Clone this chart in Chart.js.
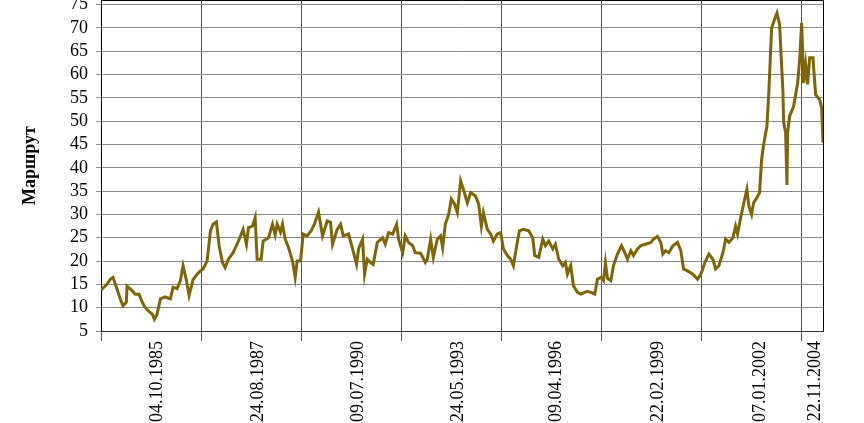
<!DOCTYPE html>
<html>
<head>
<meta charset="utf-8">
<script src="https://cdn.jsdelivr.net/npm/chart.js@4.4.1/dist/chart.umd.min.js"></script>
<style>
  html, body { margin: 0; padding: 0; background: #fff; }
</style>
</head>
<body>
<canvas id="grafico" width="864" height="423"></canvas>
<script>
// semanas desde el inicio de la serie (eje de categorias)
const semanas = [
  0, 9, 14, 18, 24, 29, 33, 38, 39, 47, 51, 57, 62, 66, 71, 77, 80, 84, 89, 96,
  104, 108, 114, 119, 123, 128, 132, 138, 144, 149, 153, 159, 164, 168, 173, 177, 182, 186,
  191, 198, 206, 213, 218, 221, 227, 231, 234, 240, 243, 251, 257, 261, 264, 269, 272, 276,
  281, 287, 291, 294, 299, 303, 309, 315, 320, 326, 332, 339, 344, 347, 354, 359, 363,
  371, 377, 383, 386, 392, 395, 399, 404, 408, 414, 422, 426, 431, 437, 443, 446, 452, 456,
  461, 467, 471, 479, 486, 489, 494, 498, 504, 509, 512, 516, 521, 525, 530, 534, 539, 543,
  549, 554, 561, 566, 570, 573, 579, 584, 588, 594, 599, 603, 609, 614, 618, 623, 627, 633,
  641, 647, 650, 656, 662, 666, 671, 677, 681, 686, 692, 696, 699, 704, 708, 714, 719, 725,
  729, 734, 740, 744, 749, 753, 756, 759, 764, 768, 774, 780, 785, 789, 794, 798, 804, 809,
  816, 824, 828, 834, 839, 842, 846, 851, 857, 864, 869, 873, 879, 887, 894, 899, 905,
  911, 917, 921, 926, 932, 936, 941, 947, 951, 954, 959, 963, 968, 971, 975, 978, 983, 987,
  990, 993, 998, 1001, 1005, 1010, 1013, 1017, 1022, 1023, 1026, 1028, 1029, 1032, 1038,
  1044, 1047, 1050, 1053, 1056, 1059, 1062, 1067, 1068, 1071, 1077, 1080, 1082
];

const precio = [
  13.8, 15, 16.1, 16.5, 14, 11.8, 10.4, 11.2, 14.6, 13.6, 12.9, 12.9, 11.1, 10.1, 9.3, 8.6, 7.5, 8.6, 11.9, 12.3,
  11.9, 14.4, 14.1, 15.8, 19, 15.9, 12.6, 16, 17.2, 17.9, 18.3, 20, 26.5, 27.9, 28.4, 23.3, 19.7, 18.6,
  20.4, 21.8, 24.3, 26.8, 23.6, 27.2, 27.5, 29.3, 20.4, 20.4, 24.3, 25, 27.9, 25.6, 27.9, 26.2, 27.9, 24.7,
  22.9, 20, 16.5, 20, 20, 25.8, 25.4, 26.5, 28, 30.5, 25.4, 28.6, 28.3, 23.6, 26.8, 27.9, 25.4,
  25.8, 22.6, 19.3, 22.6, 24.7, 17.2, 20.4, 19.7, 19.3, 24, 25, 23.6, 26.1, 25.8, 27.9, 24.7, 21.8, 25.4,
  24, 23.3, 21.8, 21.7, 19.7, 20.4, 24.7, 20.8, 24.7, 25.4, 22.9, 27.9, 30, 33.3, 32.2, 30.4, 37.2, 35.4,
  32.5, 34.7, 34, 32.2, 27.5, 30.4, 26.8, 25.8, 24.3, 25.8, 26.1, 22.6, 21.2, 20.4, 19, 23.3, 26.5, 26.8,
  26.5, 25, 21.2, 20.8, 24.7, 23.3, 24.3, 22.6, 23.6, 20.4, 19, 19.7, 17.2, 19, 14.7, 13.3, 12.9, 13.3,
  13.5, 13.3, 12.9, 16.1, 16.5, 15.8, 19.7, 16.3, 15.8, 19, 21.5, 23.3, 21.8, 20.4, 22.2, 21.2, 22.6, 23.3,
  23.6, 24, 24.7, 25.3, 24, 21.5, 22.2, 21.8, 23.3, 24, 22.2, 18.3, 17.9, 17.2, 16.1, 17.2, 19.7,
  21.5, 20.4, 18.3, 19, 21.8, 24.7, 24, 25, 27.5, 25.8, 29.6, 32.2, 35.4, 31.8, 30, 32.5, 33.6, 34.7,
  41.8, 45, 48.9, 56.8, 70, 72.1, 73.2, 70.7, 56.1, 49.7, 47.5, 36.3, 47.5, 51.1, 53.2,
  58.2, 63.2, 71.1, 58.2, 62.2, 57.9, 63.6, 63.6, 61.4, 55.7, 54.6, 52.8, 45.4
];

const fechas = ["04.10.1985", "24.08.1987", "09.07.1990", "24.05.1993",
                "09.04.1996", "22.02.1999", "07.01.2002", "22.11.2004"];
const semanaFecha = [84, 235, 385, 535, 683, 835, 988, 1071];
const rejillaX = [0, 150, 300, 450, 600, 750, 900, 1050];
const ticksY = [5, 10, 15, 20, 25, 30, 35, 40, 45, 50, 55, 60, 65, 70, 75];

const letra = "'Liberation Serif', 'Times New Roman', serif";

// marco superior y derecho del area de trazado
const marco = {
  id: "marco",
  beforeDatasetsDraw(chart) {
    const { ctx, chartArea: a } = chart;
    ctx.save();
    ctx.strokeStyle = "#000";
    ctx.lineWidth = 1;
    ctx.beginPath();
    ctx.moveTo(a.left, a.top + 0.5);
    ctx.lineTo(Math.round(a.right) + 0.5, a.top + 0.5);
    ctx.lineTo(Math.round(a.right) + 0.5, a.bottom);
    ctx.stroke();
    ctx.restore();
  }
};

new Chart("grafico", {
  type: "line",
  data: {
    datasets: [{
      data: semanas.map((s, i) => ({ x: s, y: precio[i] })),
      borderColor: "#7d6608",
      borderWidth: 3,
      pointRadius: 0,
      tension: 0,
      fill: false
    }]
  },
  options: {
    responsive: false,
    animation: false,
    layout: { padding: { top: 0, right: 41, left: 0, bottom: 0 } },
    plugins: {
      legend: { display: false },
      tooltip: { enabled: false }
    },
    scales: {
      x: {
        type: "linear",
        min: 0,
        max: 1082,
        afterBuildTicks: (s) => {
          s.ticks = rejillaX.concat(semanaFecha)
            .sort((a, b) => a - b)
            .map(v => ({ value: v }));
        },
        afterFit: (s) => {
          s.height = 92;
          s.paddingLeft = 0;
          s.paddingRight = 0;
        },
        ticks: {
          autoSkip: false,
          minRotation: 90,
          maxRotation: 90,
          padding: 0,
          color: "#000",
          font: { family: letra, size: 18 },
          callback: (v) => {
            const i = semanaFecha.indexOf(v);
            return i >= 0 ? fechas[i] : "";
          }
        },
        grid: {
          color: (c) => (c.tick && semanaFecha.includes(c.tick.value)) ? "rgba(0,0,0,0)" : "#555",
          tickLength: 10,
          lineWidth: 1
        },
        border: { color: "#333", width: 1 }
      },
      y: {
        min: 5,
        max: 76,
        afterBuildTicks: (s) => { s.ticks = ticksY.map(v => ({ value: v })); },
        afterFit: (s) => {
          s.width = 101;
          s.paddingTop = 0;
          s.paddingBottom = 0;
        },
        ticks: {
          autoSkip: false,
          padding: 8,
          color: "#000",
          font: { family: letra, size: 18 }
        },
        grid: { color: "#8a8a8a", tickLength: 5, lineWidth: 1 },
        border: { color: "#000", width: 1 },
        title: {
          display: true,
          text: "Маршрут",
          color: "#000",
          font: { family: letra, size: 18, weight: "bold" },
          padding: { top: 20, bottom: 0 }
        }
      }
    }
  },
  plugins: [marco]
});
</script>
</body>
</html>
